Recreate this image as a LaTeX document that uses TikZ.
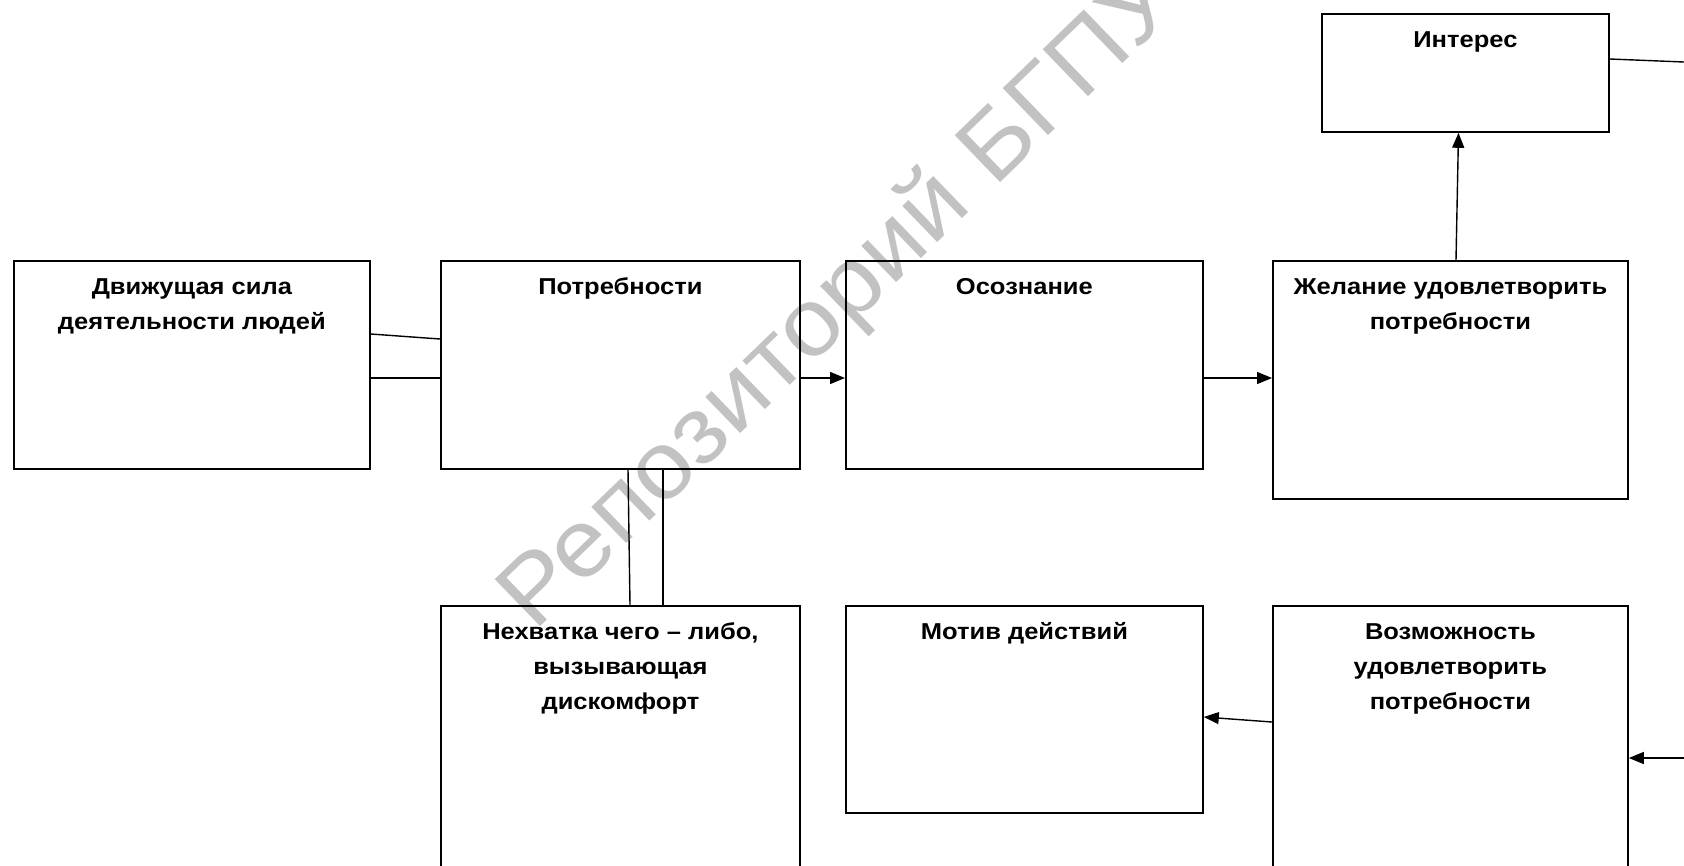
\documentclass[tikz,border=0pt]{standalone}
\usepackage{fontspec}
\setmainfont{Liberation Sans}
\newfontfamily\lblfont[FakeStretch=1.11,Ligatures=TeX]{Liberation Sans}
\newfontfamily\wmfont[FakeStretch=1.08]{Liberation Sans}
\usetikzlibrary{arrows.meta,calc}
\begin{document}
\begin{tikzpicture}[x=1pt,y=-1pt,
  box/.style={draw,line width=1.8pt,rectangle,inner sep=0pt,anchor=north west},
  lbl/.style={font=\lblfont\fontsize{23}{35}\selectfont\bfseries,align=center,anchor=north,inner sep=0pt},
  con/.style={line width=1.4pt},
  arr/.style={con,-{Triangle[length=15pt,width=12pt]}},
  wm/.style={font=\wmfont\fontsize{95}{100}\selectfont,text=black!24,anchor=base west,inner sep=0pt}]
\useasboundingbox (0,0) rectangle (1684,865);
\clip (0,0) rectangle (1684,865);
% watermark
\node[wm,rotate=44] (wmk) at (534,633) {Репозиторий БГПУ};
% boxes
\node[box,minimum width=356pt,minimum height=208pt] (A) at (13,260) {};
\node[box,minimum width=359pt,minimum height=208pt] (B) at (440,260) {};
\node[box,minimum width=357pt,minimum height=208pt] (C) at (845,260) {};
\node[box,minimum width=355pt,minimum height=238pt] (D) at (1272,260) {};
\node[box,minimum width=287pt,minimum height=118pt] (E) at (1321,13) {};
\node[box,minimum width=359pt,minimum height=300pt] (F) at (440,605) {};
\node[box,minimum width=357pt,minimum height=207pt] (G) at (845,605) {};
\node[box,minimum width=355pt,minimum height=300pt] (H) at (1272,605) {};
% labels
\node[lbl] (tA) at ($(A.north)+(0,9.5)$) {\strut Движущая сила\\деятельности людей};
\node[lbl] (tB) at ($(B.north)+(0,9.5)$) {\strut Потребности};
\node[lbl] (tC) at ($(C.north)+(0,9.5)$) {\strut Осознание};
\node[lbl] (tD) at ($(D.north)+(0,9.5)$) {\strut Желание удовлетворить\\потребности};
\node[lbl] (tE) at ($(E.north)+(0,9.5)$) {\strut Интерес};
\node[lbl] (tF) at ($(F.north)+(0,9.5)$) {\strut Нехватка чего – либо,\\вызывающая\\дискомфорт};
\node[lbl] (tG) at ($(G.north)+(0,9.5)$) {\strut Мотив действий};
\node[lbl] (tH) at ($(H.north)+(0,9.5)$) {\strut Возможность\\удовлетворить\\потребности};
% free ends
\coordinate (eR) at (1684,62);
\coordinate (hR) at (1684,758);
% connectors
\draw[con] ($(A.north east)+(0,74)$) -- ($(B.north west)+(0,79)$);
\draw[con] ($(A.north east)+(0,118)$) -- ($(B.north west)+(0,118)$);
\draw[arr] ($(B.north east)+(0,118)$) -- ($(C.north west)+(0,118)$);
\draw[arr] ($(C.north east)+(0,118)$) -- ($(D.north west)+(0,118)$);
\draw[arr] ($(D.north west)+(184,0)$) -- ($(E.south west)+(137.5,0)$);
\draw[con] ($(E.north east)+(0,46)$) -- (eR);
\draw[arr] (hR) -- ($(H.north east)+(0,153)$);
\draw[arr] ($(H.north west)+(0,117)$) -- ($(G.north east)+(0,112)$);
\draw[con] ($(B.south west)+(188,0)$) -- ($(F.north west)+(190,0)$);
\draw[con] ($(B.south west)+(223,0)$) -- ($(F.north west)+(223,0)$);
\end{tikzpicture}
\end{document}
